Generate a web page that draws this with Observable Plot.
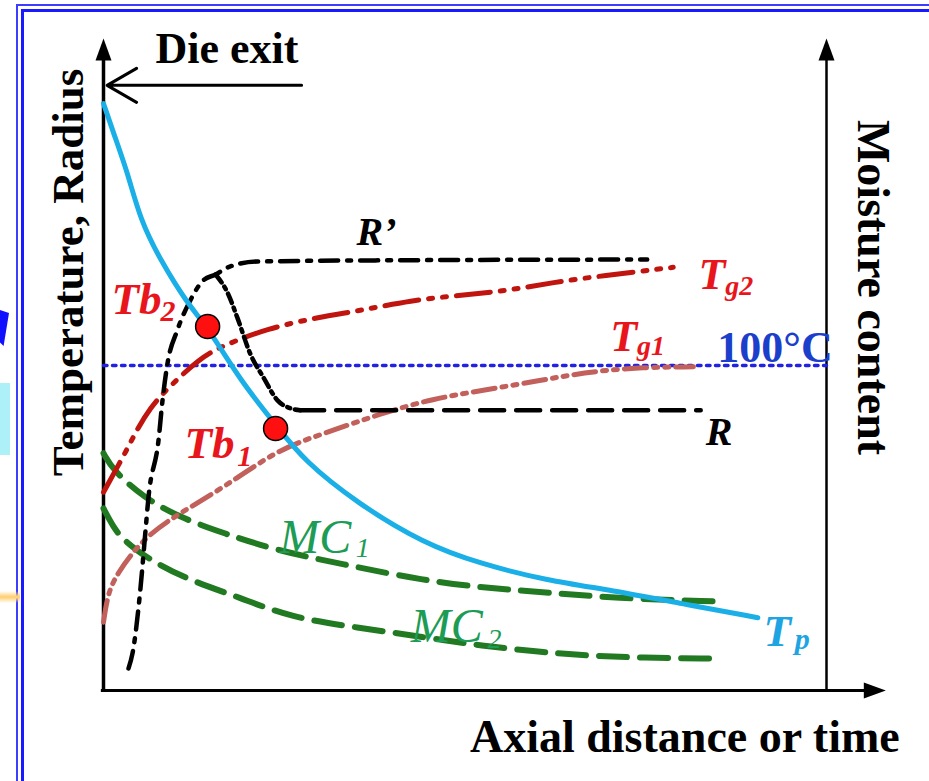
<!DOCTYPE html>
<html><head><meta charset="utf-8">
<script src="https://cdn.jsdelivr.net/npm/d3@7"></script>
<script src="https://cdn.jsdelivr.net/npm/@observablehq/plot@0.6"></script>
<style>
html,body{margin:0;padding:0;background:#fff;overflow:hidden;}
#wrap{position:relative;width:929px;height:781px;overflow:hidden;}
#chart{position:absolute;left:0;top:0;}
.deco{position:absolute;}
</style></head><body>
<div id="wrap">
<div id="chart"></div>
<div class="deco" style="left:16px;top:4px;width:2px;height:777px;background:#3d3dff"></div>
<div class="deco" style="left:21px;top:9px;width:3px;height:772px;background:#1a1aff"></div>
<div class="deco" style="left:16px;top:4px;width:913px;height:2px;background:#3d3dff"></div>
<div class="deco" style="left:21px;top:9px;width:908px;height:3px;background:#1a1aff"></div>
<div class="deco" style="left:0;top:383px;width:10px;height:72px;background:#aef0f8"></div>
<div class="deco" style="left:0;top:310px;width:9px;height:36px;background:#1010ff;clip-path:polygon(0 0,100% 8%,40% 100%,0 90%)"></div>
<div class="deco" style="left:0;top:591px;width:20px;height:12px;background:linear-gradient(#fff0,#ffd27a 45%,#ffd27a 55%,#fff0)"></div>
</div>
<script>
// ---- data (x: axial distance 0-100, y: relative level 0-100) ----
const Tp  = [[0,90.3],[1.66,84.9],[3.32,79.7],[5.12,72.3],[7.88,66.2],[11.6,59.5],[14.5,55.8],[18.9,47.7],[24.1,40.5],[27.7,35.4],[35.1,28.8],[44.3,22.6],[52.1,19.5],[61.4,16.9],[70.5,15.4],[79.8,13.4],[90.5,11.2]];
const Rprime = [[3.46,3.4],[4.01,5.7],[5.12,15.8],[5.81,24.6],[6.22,29.7],[7.61,38.5],[8.16,44.6],[8.85,50.3],[10.2,55.4],[12.0,60.0],[13.8,63.1],[15.5,64.0],[17.2,65.1],[21.3,66.0],[42.5,66.2],[75.2,66.3]];
const Rdrop = [[15.5,64.0],[17.2,61.1],[18.5,57.4],[20.3,51.8],[22.1,48.2],[24.1,44.6],[25.9,43.4],[27.2,43.1]];
const Rflat = [[27.2,43.1],[82.6,43.1]];
const Tg2 = [[0,30.5],[3.32,37.2],[4.70,40.3],[6.50,43.5],[8.58,46.2],[13.4,51.2],[16.6,53.1],[22.7,55.7],[29.6,57.4],[35.8,58.5],[42.5,60.0],[49.1,60.8],[55.9,61.5],[62.2,62.8],[69.0,63.8],[78.8,65.1]];
const Tg1 = [[0,10.5],[0.55,14.6],[1.66,17.7],[5.53,23.5],[10.4,27.2],[16.6,31.2],[24.1,37.1],[30.4,39.5],[38.3,42.6],[45.6,44.9],[52.6,46.2],[60.4,47.7],[66.4,48.9],[73.3,49.7],[81.6,49.8]];
const MC1 = [[0,36.5],[1.38,33.8],[5.53,29.7],[10.6,26.6],[16.6,24.2],[24.1,21.5],[32.8,19.5],[44.3,16.9],[53.5,15.7],[61.4,15.1],[70.5,14.2],[85.1,13.7]];
const MC2 = [[0,28.0],[1.38,25.1],[2.77,23.1],[6.50,20.0],[12.0,16.9],[18.9,14.3],[25.9,11.2],[35.1,9.7],[44.3,8.2],[52.1,6.9],[61.4,5.8],[70.5,5.1],[85.1,4.9]];
const boil = [[0,50],[100,50]];
const bubbles = [[14.4,56.0],[23.8,40.3]];

// ---- drawing ----
const X = d => d[0], Y = d => d[1];
const serif = "Liberation Serif, Times New Roman, serif";
const upHead = {draw(ctx, size){const r=Math.sqrt(size/Math.PI);ctx.moveTo(0,0);ctx.lineTo(-0.8*r,2.2*r);ctx.lineTo(0.8*r,2.2*r);ctx.closePath();}};
const rightHead = {draw(ctx, size){const r=Math.sqrt(size/Math.PI);ctx.moveTo(0,0);ctx.lineTo(-2.2*r,-0.8*r);ctx.lineTo(-2.2*r,0.8*r);ctx.closePath();}};

function label(t, x, y, o = {}) {
  return Plot.text([t], {x, y, text: d => d, lineAnchor: "bottom", textAnchor: "start",
    fontFamily: serif, fontWeight: "bold", fontStyle: "italic", fontSize: 45, fill: "black", ...o});
}
const red = "#e8161c";

const chart = Plot.plot({
  width: 929, height: 781,
  marginLeft: 103, marginRight: 103, marginTop: 40, marginBottom: 91,
  x: {domain: [0, 100], axis: null},
  y: {domain: [0, 100], axis: null},
  marks: [
    // axes
    Plot.ruleX([0], {y1: 0, y2: 97.5, stroke: "black", strokeWidth: 3.5}),
    Plot.ruleX([100], {y1: 0, y2: 97.5, stroke: "black", strokeWidth: 2.5}),
    Plot.ruleY([0], {x1: -0.3, x2: 105.5, stroke: "black", strokeWidth: 3}),
    Plot.dot([[0,100.3],[100,100.3]], {x: X, y: Y, symbol: upHead, r: 10, fill: "black", stroke: null}),
    Plot.dot([[108.2,0]], {x: X, y: Y, symbol: rightHead, r: 10, fill: "black", stroke: null}),
    Plot.arrow([0], {x1: 27.4, y1: 93.1, x2: 0.5, y2: 93.1, headLength: 17, strokeWidth: 3, stroke: "black"}),
    // curves
    Plot.line(boil, {x: X, y: Y, stroke: "#2222e0", strokeWidth: 3.5, strokeDasharray: "3.5,5.5"}),
    Plot.line(MC1, {x: X, y: Y, curve: "basis", stroke: "#217a21", strokeWidth: 6, strokeDasharray: "28,13"}),
    Plot.line(MC2, {x: X, y: Y, curve: "basis", stroke: "#217a21", strokeWidth: 6, strokeDasharray: "28,13"}),
    Plot.line(Tg1, {x: X, y: Y, curve: "basis", stroke: "#c2605c", strokeWidth: 5, strokeDasharray: "22,7,4,7,4,7"}),
    Plot.line(Tg2, {x: X, y: Y, curve: "basis", stroke: "#c0140f", strokeWidth: 5, strokeDasharray: "34,10,4,10,4,10"}),
    Plot.line(Rprime, {x: X, y: Y, curve: "monotone-x", stroke: "black", strokeWidth: 4.5, strokeDasharray: "18,9,4,9"}),
    Plot.line(Rdrop, {x: X, y: Y, curve: "monotone-x", stroke: "black", strokeWidth: 4.5, strokeDasharray: "10,5,3,5"}),
    Plot.line(Rflat, {x: X, y: Y, stroke: "black", strokeWidth: 4.5, strokeDasharray: "24,12"}),
    Plot.line(Tp, {x: X, y: Y, curve: "basis", stroke: "#1aafe6", strokeWidth: 5}),
    Plot.dot(bubbles, {x: X, y: Y, r: 12, fill: "#ff1010", stroke: "black", strokeWidth: 1.5}),
    // axis titles
    label("Die exit", 7.19, 96.6, {fontStyle: "normal", fontSize: 44}),
    label("Temperature, Radius", -2.9, 64.3, {fontStyle: "normal", textAnchor: "middle", rotate: -90}),
    label("Moisture content", 104.3, 62.0, {fontStyle: "normal", textAnchor: "middle", rotate: 90, fontSize: 46}),
    label("Axial distance or time", 80.4, -9.5, {fontStyle: "normal", textAnchor: "middle", fontSize: 46}),
    // curve labels
    label("100°C", 84.9, 50.5, {fontStyle: "normal", fontSize: 44, fill: "#1c3fcb"}),
    label("R’", 35.0, 68.6, {fontSize: 40}),
    label("R", 83.3, 37.8, {fontSize: 40}),
    label("Tb", 1.1, 58.0, {fill: red}),
    label("2", 7.9, 56.9, {fill: red, fontSize: 30}),
    label("Tb", 11.2, 35.8, {fill: red}),
    label("1", 18.5, 34.5, {fill: red, fontSize: 30}),
    label("T", 82.3, 61.7, {fill: red, fontSize: 44}),
    label("g2", 86.0, 60.9, {fill: red, fontSize: 28}),
    label("T", 70.1, 52.3, {fill: red, fontSize: 44}),
    label("g1", 73.8, 51.6, {fill: red, fontSize: 28}),
    label("T", 91.3, 6.9, {fill: "#1ea4e2", fontSize: 45}),
    label("p", 95.6, 6.4, {fill: "#1ea4e2", fontSize: 30}),
    label("MC", 24.3, 21.1, {fill: "#1c9c55", fontWeight: "normal", fontSize: 48}),
    label("1", 34.9, 20.5, {fill: "#1c9c55", fontWeight: "normal", fontSize: 28}),
    label("MC", 42.5, 7.5, {fill: "#1c9c55", fontWeight: "normal", fontSize: 48}),
    label("2", 53.1, 6.6, {fill: "#1c9c55", fontWeight: "normal", fontSize: 28})
  ]
});
document.getElementById("chart").appendChild(chart);
</script>
</body></html>
